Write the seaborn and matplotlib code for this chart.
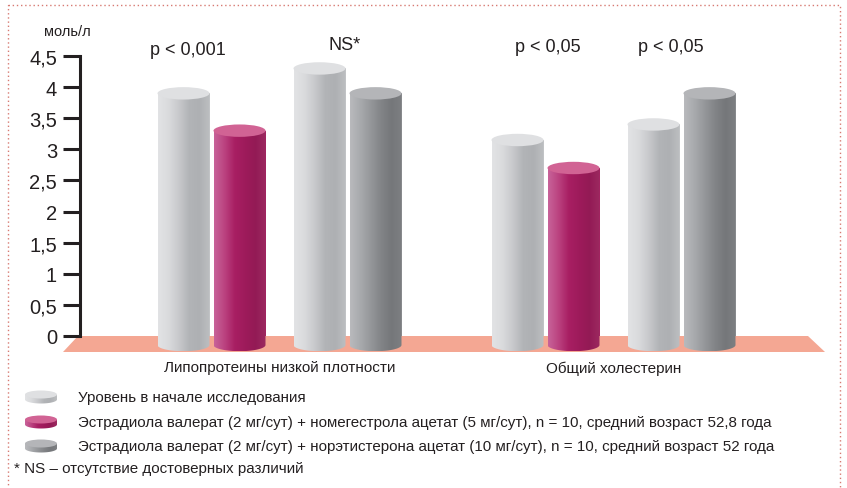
import numpy as np
import pandas as pd
import matplotlib
matplotlib.use("Agg")
import matplotlib.pyplot as plt
import seaborn as sns
from matplotlib.patches import Ellipse, PathPatch, Polygon, Rectangle
from matplotlib.path import Path
from matplotlib.colors import LinearSegmentedColormap
import matplotlib.transforms as mtransforms

# ---- data -------------------------------------------------------------
categories = ["Липопротеины низкой плотности", "Общий холестерин"]
series = ["Исходно (группа НОМАЦ)", "НОМАЦ", "Исходно (группа НЭТА)", "НЭТА"]
baseline_nomac = [3.9, 3.15]
nomac = [3.3, 2.7]
baseline_neta = [4.3, 3.4]
neta = [3.9, 3.9]
p_labels = ["p < 0,001", "NS*", "p < 0,05", "p < 0,05"]
ytick_values = [0, 0.5, 1, 1.5, 2, 2.5, 3, 3.5, 4, 4.5]
ytick_labels = ["0", "0,5", "1", "1,5", "2", "2,5", "3", "3,5", "4", "4,5"]
unit_label = "моль/л"
legend_labels = [
    "Уровень в начале исследования",
    "Эстрадиола валерат (2 мг/сут) + номегестрола ацетат (5 мг/сут), n = 10, средний возраст 52,8 года",
    "Эстрадиола валерат (2 мг/сут) + норэтистерона ацетат (10 мг/сут), n = 10, средний возраст 52 года",
]
footnote = "* NS – отсутствие достоверных различий"

df = pd.DataFrame({
    "category": categories * 4,
    "series": [s for s in series for _ in categories],
    "value": baseline_nomac + nomac + baseline_neta + neta,
})

# ---- styling ----------------------------------------------------------
sns.set_style("white")
plt.rcParams["font.family"] = ["Liberation Sans", "DejaVu Sans"]
ink = "#231f20"

light = ["#e2e3e5", "#dadbdd", "#c8c9cc", "#b2b4b7", "#aeb0b3", "#bdbfc1"]
magenta = ["#c8639a", "#bb4380", "#a81f63", "#9e1b5b", "#931a55", "#9c2a60"]
grey = ["#b9babd", "#a8aaad", "#95979a", "#828487", "#75777a", "#7d7f82"]
shades = [light, magenta, light, grey]
tops = ["#dfe0e2", "#d16394", "#dfe0e2", "#b4b5b8"]
floor_color = "#f4a793"

W, H = 847, 489
fig = plt.figure(figsize=(W / 100, H / 100), dpi=100)
fig.patch.set_facecolor("white")

# plot area geometry (pixels)
px_left, px_right = 80, 840
px_zero, px_top = 337, 57
y_min, y_max = -0.3, 4.5
ppu = (px_zero - px_top) / y_max
px_bottom = px_zero - y_min * ppu

# overlay for frame, legend and footnote
ov = fig.add_axes([0, 0, 1, 1], zorder=0)
ov.set_xlim(0, W)
ov.set_ylim(H, 0)
ov.axis("off")

ax = fig.add_axes([px_left / W, (H - px_bottom) / H,
                   (px_right - px_left) / W, (px_bottom - px_top) / H], zorder=1)
ax.patch.set_alpha(0)

sns.barplot(data=df, x="category", y="value", hue="series",
            order=categories, hue_order=series,
            palette=[s[2] for s in shades], saturation=1,
            errorbar=None, legend=False, linewidth=0, ax=ax)

group_span = 334.0  # pixels between the two group centres
bar_w = 52 / group_span
offsets = [-96 / group_span, -40 / group_span, 40 / group_span, 96 / group_span]
x_lo = -(279.5 - px_left) / group_span
x_hi = 1 + (px_right - 613.5) / group_span
ax.set_xlim(x_lo, x_hi)
ax.set_ylim(y_min, y_max)

ry = 6.2 / ppu          # half-height of the cylinder ellipses
yb = -9.0 / ppu         # centre of the bottom ellipse

# floor under the bars
blend = mtransforms.blended_transform_factory(ax.transAxes, ax.transData)
fx = lambda p: (p - px_left) / (px_right - px_left)
floor = Polygon([(fx(78), 0), (fx(808), 0), (fx(825), -16 / ppu), (fx(63), -16 / ppu)],
                closed=True, transform=blend, facecolor=floor_color,
                edgecolor="none", zorder=0.5, clip_on=False)
ax.add_patch(floor)

grad = np.linspace(0, 1, 256).reshape(1, -1)
for j, cont in enumerate(ax.containers):
    cmap = LinearSegmentedColormap.from_list(f"c{j}", shades[j])
    for i, bar in enumerate(cont):
        cx = i + offsets[j]
        bar.set_x(cx - bar_w / 2)
        bar.set_width(bar_w)
        top = bar.get_height()
        x0, x1 = cx - bar_w / 2, cx + bar_w / 2
        t = np.linspace(np.pi, 2 * np.pi, 60)
        verts = [(x0, top), (x0, yb)]
        verts += list(zip(cx + bar_w / 2 * np.cos(t), yb + ry * np.sin(t)))
        verts += [(x1, top), (x0, top)]
        codes = [Path.MOVETO] + [Path.LINETO] * (len(verts) - 2) + [Path.CLOSEPOLY]
        body = PathPatch(Path(verts, codes), facecolor="none", edgecolor="none")
        ax.add_patch(body)
        im = ax.imshow(grad, cmap=cmap, aspect="auto", interpolation="bilinear",
                       extent=[x0, x1, yb - ry, top], zorder=3)
        im.set_clip_path(body)
        ax.add_patch(Ellipse((cx, top), bar_w, 2 * ry, facecolor=tops[j],
                             edgecolor="none", zorder=4))
ax.set_xlim(x_lo, x_hi)
ax.set_ylim(y_min, y_max)

# significance labels above each pair
p_x = [(188 - 279.5) / group_span, (345 - 279.5) / group_span,
       1 + (548 - 613.5) / group_span, 1 + (671 - 613.5) / group_span]
p_y = [4.61, 4.69, 4.65, 4.65]
for x, y, s in zip(p_x, p_y, p_labels):
    ax.text(x, y, s, ha="center", va="center", fontsize=13, color=ink, clip_on=False)

# axes decoration
for side in ["top", "right", "bottom"]:
    ax.spines[side].set_visible(False)
ax.spines["left"].set_bounds(0, 4.5)
ax.spines["left"].set_linewidth(2.2)
ax.spines["left"].set_color(ink)
ax.set_yticks(ytick_values)
ax.set_yticklabels(ytick_labels)
ax.tick_params(axis="y", length=12, width=2.2, color=ink, pad=4.5,
               labelsize=14.5, labelcolor=ink, left=True)
ax.tick_params(axis="x", length=0, pad=4, labelsize=11, labelcolor=ink)
ax.set_xlabel("")
ax.set_ylabel("")
ax.grid(False)
ax.text(-0.016, 4.9, unit_label, transform=blend, ha="center", va="center",
        fontsize=10.5, color=ink, clip_on=False)

# dotted frame
ov.add_patch(Rectangle((8, 6), 832, 520, fill=False, edgecolor="#d77a72",
                       linewidth=1.0, linestyle=(0, (1, 2))))

# legend with small cylinder icons
leg_y = [398, 423, 447]
icon_shades = [light, magenta, grey]
icon_tops = [tops[0], tops[1], tops[3]]
for k, (yy, lab) in enumerate(zip(leg_y, legend_labels)):
    ix0, ix1 = 25, 57
    icx, irx = (ix0 + ix1) / 2, (ix1 - ix0) / 2
    cmap = LinearSegmentedColormap.from_list(f"i{k}", icon_shades[k])
    t = np.linspace(0, np.pi, 40)
    y_top, y_bot = yy - 2.5, yy + 2.5
    verts = [(ix0, y_top), (ix0, y_bot)]
    verts += list(zip(icx - irx * np.cos(t), y_bot + 4 * np.sin(t)))
    verts += [(ix1, y_top), (ix0, y_top)]
    codes = [Path.MOVETO] + [Path.LINETO] * (len(verts) - 2) + [Path.CLOSEPOLY]
    side = PathPatch(Path(verts, codes), facecolor="none", edgecolor="none")
    ov.add_patch(side)
    im = ov.imshow(grad, cmap=cmap, aspect="auto", interpolation="bilinear",
                   extent=[ix0, ix1, y_bot + 5, y_top], zorder=2)
    im.set_clip_path(side)
    ov.add_patch(Ellipse((icx, y_top), ix1 - ix0, 8, facecolor=icon_tops[k],
                         edgecolor="none", zorder=3))
    ov.text(78, yy, lab, ha="left", va="center", fontsize=10.9, color=ink)
ov.set_xlim(0, W)
ov.set_ylim(H, 0)
ov.text(14, 469, footnote, ha="left", va="center", fontsize=10.9, color=ink)

fig.savefig("out.png", dpi=100)
